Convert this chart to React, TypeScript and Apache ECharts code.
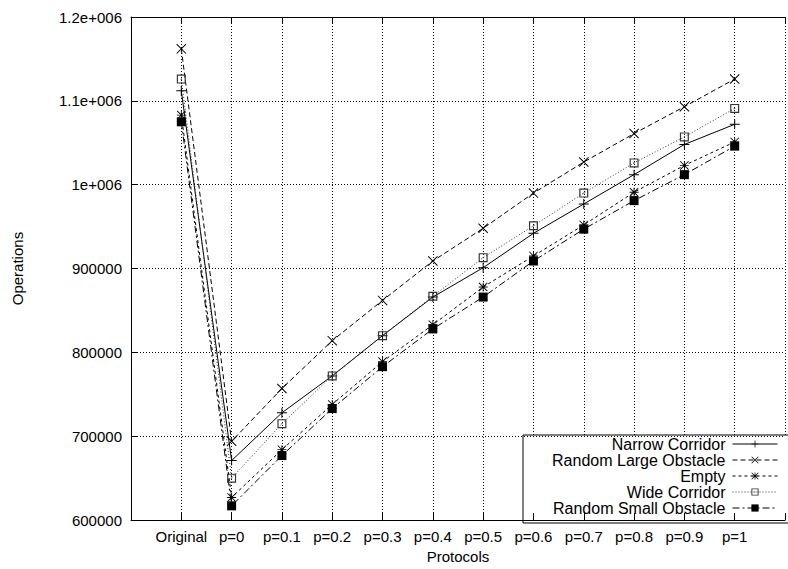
import React, { useEffect, useRef } from "react";
import * as echarts from "echarts";

const categories = ["Original", "p=0", "p=0.1", "p=0.2", "p=0.3", "p=0.4", "p=0.5", "p=0.6", "p=0.7", "p=0.8", "p=0.9", "p=1"];
const seriesNames = ["Narrow Corridor", "Random Large Obstacle", "Empty", "Wide Corridor", "Random Small Obstacle"];
const narrowCorridor = [1112000, 671000, 728000, 772000, 820000, 866000, 901000, 942000, 977000, 1012000, 1048000, 1072000];
const randomLargeObstacle = [1162000, 694000, 757000, 814000, 862000, 909000, 948000, 990000, 1027000, 1061000, 1093000, 1126000];
const empty = [1083000, 627000, 684000, 738000, 789000, 833000, 878000, 915000, 952000, 991000, 1023000, 1051000];
const wideCorridor = [1126000, 650000, 715000, 772000, 820000, 867000, 913000, 951000, 990000, 1026000, 1057000, 1091000];
const randomSmallObstacle = [1075000, 617000, 677000, 733000, 783000, 828000, 866000, 909000, 947000, 981000, 1012000, 1046000];
const yTickValues = [600000, 700000, 800000, 900000, 1000000, 1100000, 1200000];
const yTickLabels = ["600000", "700000", "800000", "900000", "1e+006", "1.1e+006", "1.2e+006"];

const FONT = "'Liberation Sans', Arial, Helvetica, sans-serif";

const PLUS = "path://M4.5,0h1v10h-1z M0,4.5h10v1h-10z";
const CROSS = "path://M0,0.7L0.7,0L10,9.3L9.3,10z M9.3,0L10,0.7L0.7,10L0,9.3z";
const STAR = "path://M4.5,0h1v10h-1z M0,4.5h10v1h-10z M0,0.7L0.7,0L10,9.3L9.3,10z M9.3,0L10,0.7L0.7,10L0,9.3z";
const OPEN_SQ = "path://M0,0h10v10h-10z M1.3,1.3v7.4h7.4v-7.4z M4.4,4.4h1.2v1.2h-1.2z";

export default function App() {
  const ref = useRef<HTMLDivElement>(null);
  useEffect(() => {
    if (!ref.current) return;
    const chart = echarts.init(ref.current, undefined, { renderer: "svg" });
    const values = [narrowCorridor, randomLargeObstacle, empty, wideCorridor, randomSmallObstacle];
    const symbols = [PLUS, CROSS, STAR, OPEN_SQ, "rect"];
    const symbolSizes = [10, 10, 9, 9, 9];
    const dashes: any[] = ["solid", [5, 3], [3, 3], [1, 2], [7, 3, 2, 3]];
    const colors = ["#000", "#000", "#000", "#333", "#000"];
    const series = seriesNames.map((name, i) => ({
      name,
      type: "line",
      xAxisIndex: 0,
      yAxisIndex: 0,
      data: values[i].map((v, j) => [j + 1, v]),
      symbol: symbols[i],
      symbolSize: symbolSizes[i],
      symbolKeepAspect: true,
      lineStyle: { color: colors[i], width: 1, type: dashes[i] },
      itemStyle: { color: colors[i], borderWidth: 0 },
      emphasis: { disabled: true },
      z: 6,
    }));
    const rowTops = [436, 452, 468, 484, 500];
    const legends = seriesNames.map((name, i) => ({
      data: [name],
      right: 10,
      top: rowTops[i],
      align: "right",
      orient: "horizontal",
      itemWidth: 45,
      itemHeight: 9,
      padding: 0,
      selectedMode: false,
      lineStyle: { width: 1 },
      textStyle: { fontSize: 16, fontFamily: FONT, color: "#000", padding: [0, 2, 0, 0] },
      z: 8,
    }));
    const grid = { left: 131, right: -12, top: 17, bottom: 46 };
    chart.setOption({
      animation: false,
      textStyle: { fontFamily: FONT },
      grid,
      legend: legends,
      xAxis: [
        {
          type: "value",
          min: 0,
          max: 13,
          interval: 1,
          position: "bottom",
          z: 0,
          axisLine: { show: false },
          axisTick: { show: false },
          splitLine: { show: true, lineStyle: { color: "#000", type: [1, 2], width: 1 } },
          axisLabel: {
            fontSize: 15,
            color: "#000",
            margin: 9,
            fontFamily: FONT,
            formatter: (v: number) => (Number.isInteger(v) && v >= 1 && v <= categories.length ? categories[v - 1] : ""),
          },
          name: "Protocols",
          nameLocation: "middle",
          nameGap: 26,
          nameTextStyle: { fontSize: 15, color: "#000", fontFamily: FONT },
        },
        {
          type: "value",
          min: 0,
          max: 13,
          interval: 1,
          position: "bottom",
          z: 9,
          axisLine: { show: true, onZero: false, lineStyle: { color: "#000", width: 1 } },
          axisTick: { show: true, inside: true, length: 7, lineStyle: { color: "#000" } },
          axisLabel: { show: false },
          splitLine: { show: false },
        },
        {
          type: "value",
          min: 0,
          max: 13,
          interval: 1,
          position: "top",
          z: 9,
          axisLine: { show: true, onZero: false, lineStyle: { color: "#000", width: 1 } },
          axisTick: { show: true, inside: true, length: 7, lineStyle: { color: "#000" } },
          axisLabel: { show: false },
          splitLine: { show: false },
        },
      ],
      yAxis: [
        {
          type: "value",
          min: 600000,
          max: 1200000,
          interval: 100000,
          z: 9,
          axisLine: { show: true, onZero: false, lineStyle: { color: "#000", width: 1 } },
          axisTick: { show: true, inside: true, length: 7, lineStyle: { color: "#000" } },
          splitLine: { show: true, lineStyle: { color: "#000", type: [1, 2], width: 1 } },
          axisLabel: {
            fontSize: 15,
            color: "#000",
            margin: 9,
            fontFamily: FONT,
            formatter: (v: number) => {
              const k = yTickValues.indexOf(v);
              return k >= 0 ? yTickLabels[k] : "";
            },
          },
          name: "Operations",
          nameLocation: "middle",
          nameGap: 106,
          nameRotate: 90,
          nameTextStyle: { fontSize: 15, color: "#000", fontFamily: FONT },
        },
      ],
      graphic: [
        {
          type: "rect",
          z: 3,
          shape: { x: 523, y: 435, width: 300, height: 88 },
          style: { fill: "#fff", stroke: "#000", lineWidth: 1 },
        },
      ],
      series,
    });
    return () => chart.dispose();
  }, []);
  return (
    <div
      ref={ref}
      style={{ position: "fixed", left: 0, top: 0, width: 788, height: 569, background: "#fff" }}
    />
  );
}
